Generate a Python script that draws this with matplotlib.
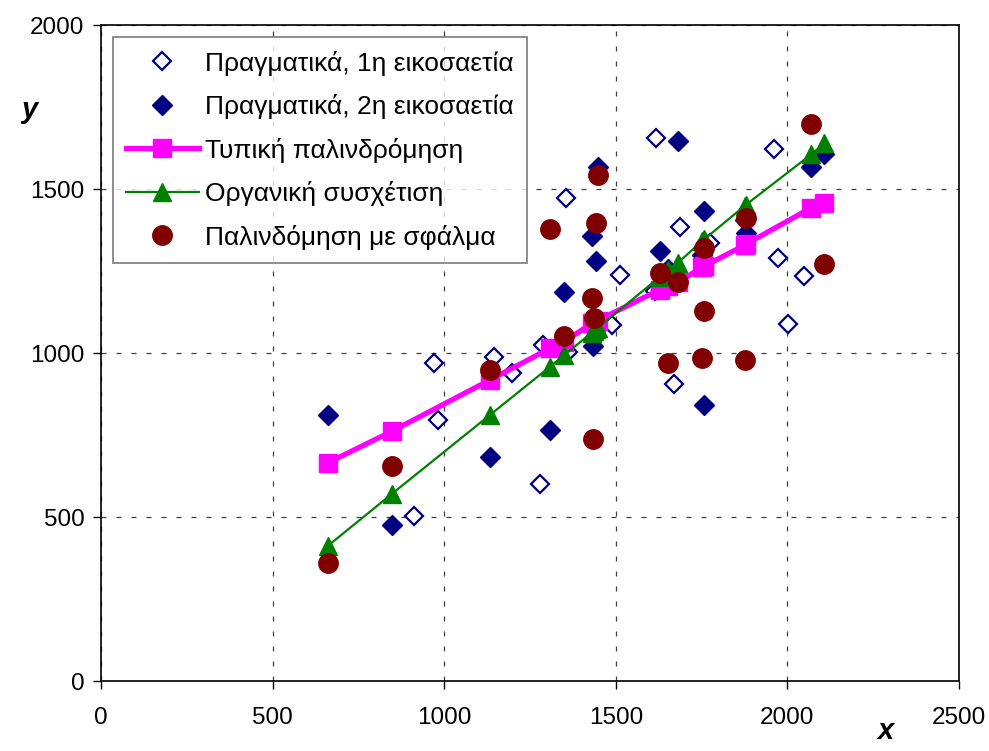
import matplotlib.pyplot as plt

plt.rcParams['font.family'] = ['Liberation Sans', 'DejaVu Sans']

# first twenty years (open diamonds)
x_first = [912, 970, 981, 1145, 1197, 1280, 1287, 1355, 1360, 1490,
           1512, 1614, 1616, 1670, 1686, 1773, 1961, 1972, 2003, 2049]
y_first = [504, 971, 795, 987, 940, 601, 1024, 1474, 1004, 1086,
           1237, 1188, 1654, 904, 1384, 1335, 1622, 1290, 1089, 1236]

# second twenty years, shared x for all fitted series
x_second = [661, 847, 1132, 1308, 1350, 1430, 1434, 1436, 1442, 1447,
            1628, 1652, 1681, 1752, 1756, 1758, 1876, 1878, 2070, 2107]
y_second = [812, 475, 682, 765, 1186, 1358, 1021, 1085, 1280, 1566,
            1310, 1255, 1647, 1300, 1433, 843, 1405, 1367, 1566, 1606]

y_regression = [665, 761, 917, 1014, 1035, 1090, 1092, 1093, 1096, 1099,
                1193, 1204, 1215, 1262, 1264, 1265, 1329, 1331, 1443, 1456]
y_organic = [412, 570, 810, 958, 994, 1062, 1066, 1067, 1072, 1076,
             1232, 1254, 1275, 1342, 1346, 1347, 1449, 1451, 1606, 1639]
y_error = [359, 654, 948, 1379, 1053, 1169, 739, 1106, 1397, 1543,
           1244, 971, 1218, 986, 1127, 1321, 979, 1412, 1698, 1270]

labels = ['Πραγματικά, 1η εικοσαετία', 'Πραγματικά, 2η εικοσαετία',
          'Τυπική παλινδρόμηση', 'Οργανική συσχέτιση', 'Παλινδόμηση με σφάλμα']

navy = '#000080'

fig = plt.figure(figsize=(9.89, 7.51), dpi=100)
ax = fig.add_axes([0.1021, 0.0932, 0.8676, 0.8735])

ax.plot(x_first, y_first, ls='none', marker='D', ms=9.5, mfc='white',
        mec=navy, mew=1.6, label=labels[0], zorder=3)
ax.plot(x_second, y_second, ls='none', marker='D', ms=10, mfc=navy,
        mec=navy, label=labels[1], zorder=3)
ax.plot(x_second, y_regression, color='#FF00FF', lw=3.8, marker='s',
        ms=13, mfc='#FF00FF', mec='#FF00FF', label=labels[2], zorder=4)
ax.plot(x_second, y_organic, color='#008000', lw=1.6, marker='^',
        ms=13, mfc='#008000', mec='#008000', label=labels[3], zorder=5)
ax.plot(x_second, y_error, ls='none', marker='o', ms=14, mfc='#800000',
        mec='#800000', label=labels[4], zorder=6)

ax.set_xlim(0, 2500)
ax.set_ylim(0, 2000)
ax.set_xticks(range(0, 2501, 500))
ax.set_yticks(range(0, 2001, 500))
ax.tick_params(labelsize=17.5, length=6, width=1, color='black', pad=6)
ax.tick_params(axis='x', pad=13)
ax.grid(True, color='0.25', lw=0.9, ls=(0, (4, 8)))
ax.set_axisbelow(True)
for s in ax.spines.values():
    s.set_linewidth(1.2)

fig.text(0.030, 0.853, 'y', fontsize=21, fontweight='bold', style='italic',
         ha='center', va='center')
fig.text(0.895, 0.027, 'x', fontsize=21, fontweight='bold', style='italic',
         ha='center', va='center')

leg = ax.legend(loc='upper left', bbox_to_anchor=(0.014, 0.981),
                borderaxespad=0, fontsize=19, frameon=True, fancybox=False,
                edgecolor='0.35', handlelength=2.75, handletextpad=0.25,
                labelspacing=0.7, borderpad=0.5, numpoints=1)
leg.get_frame().set_linewidth(1.2)

fig.savefig('out.png', dpi=100)
